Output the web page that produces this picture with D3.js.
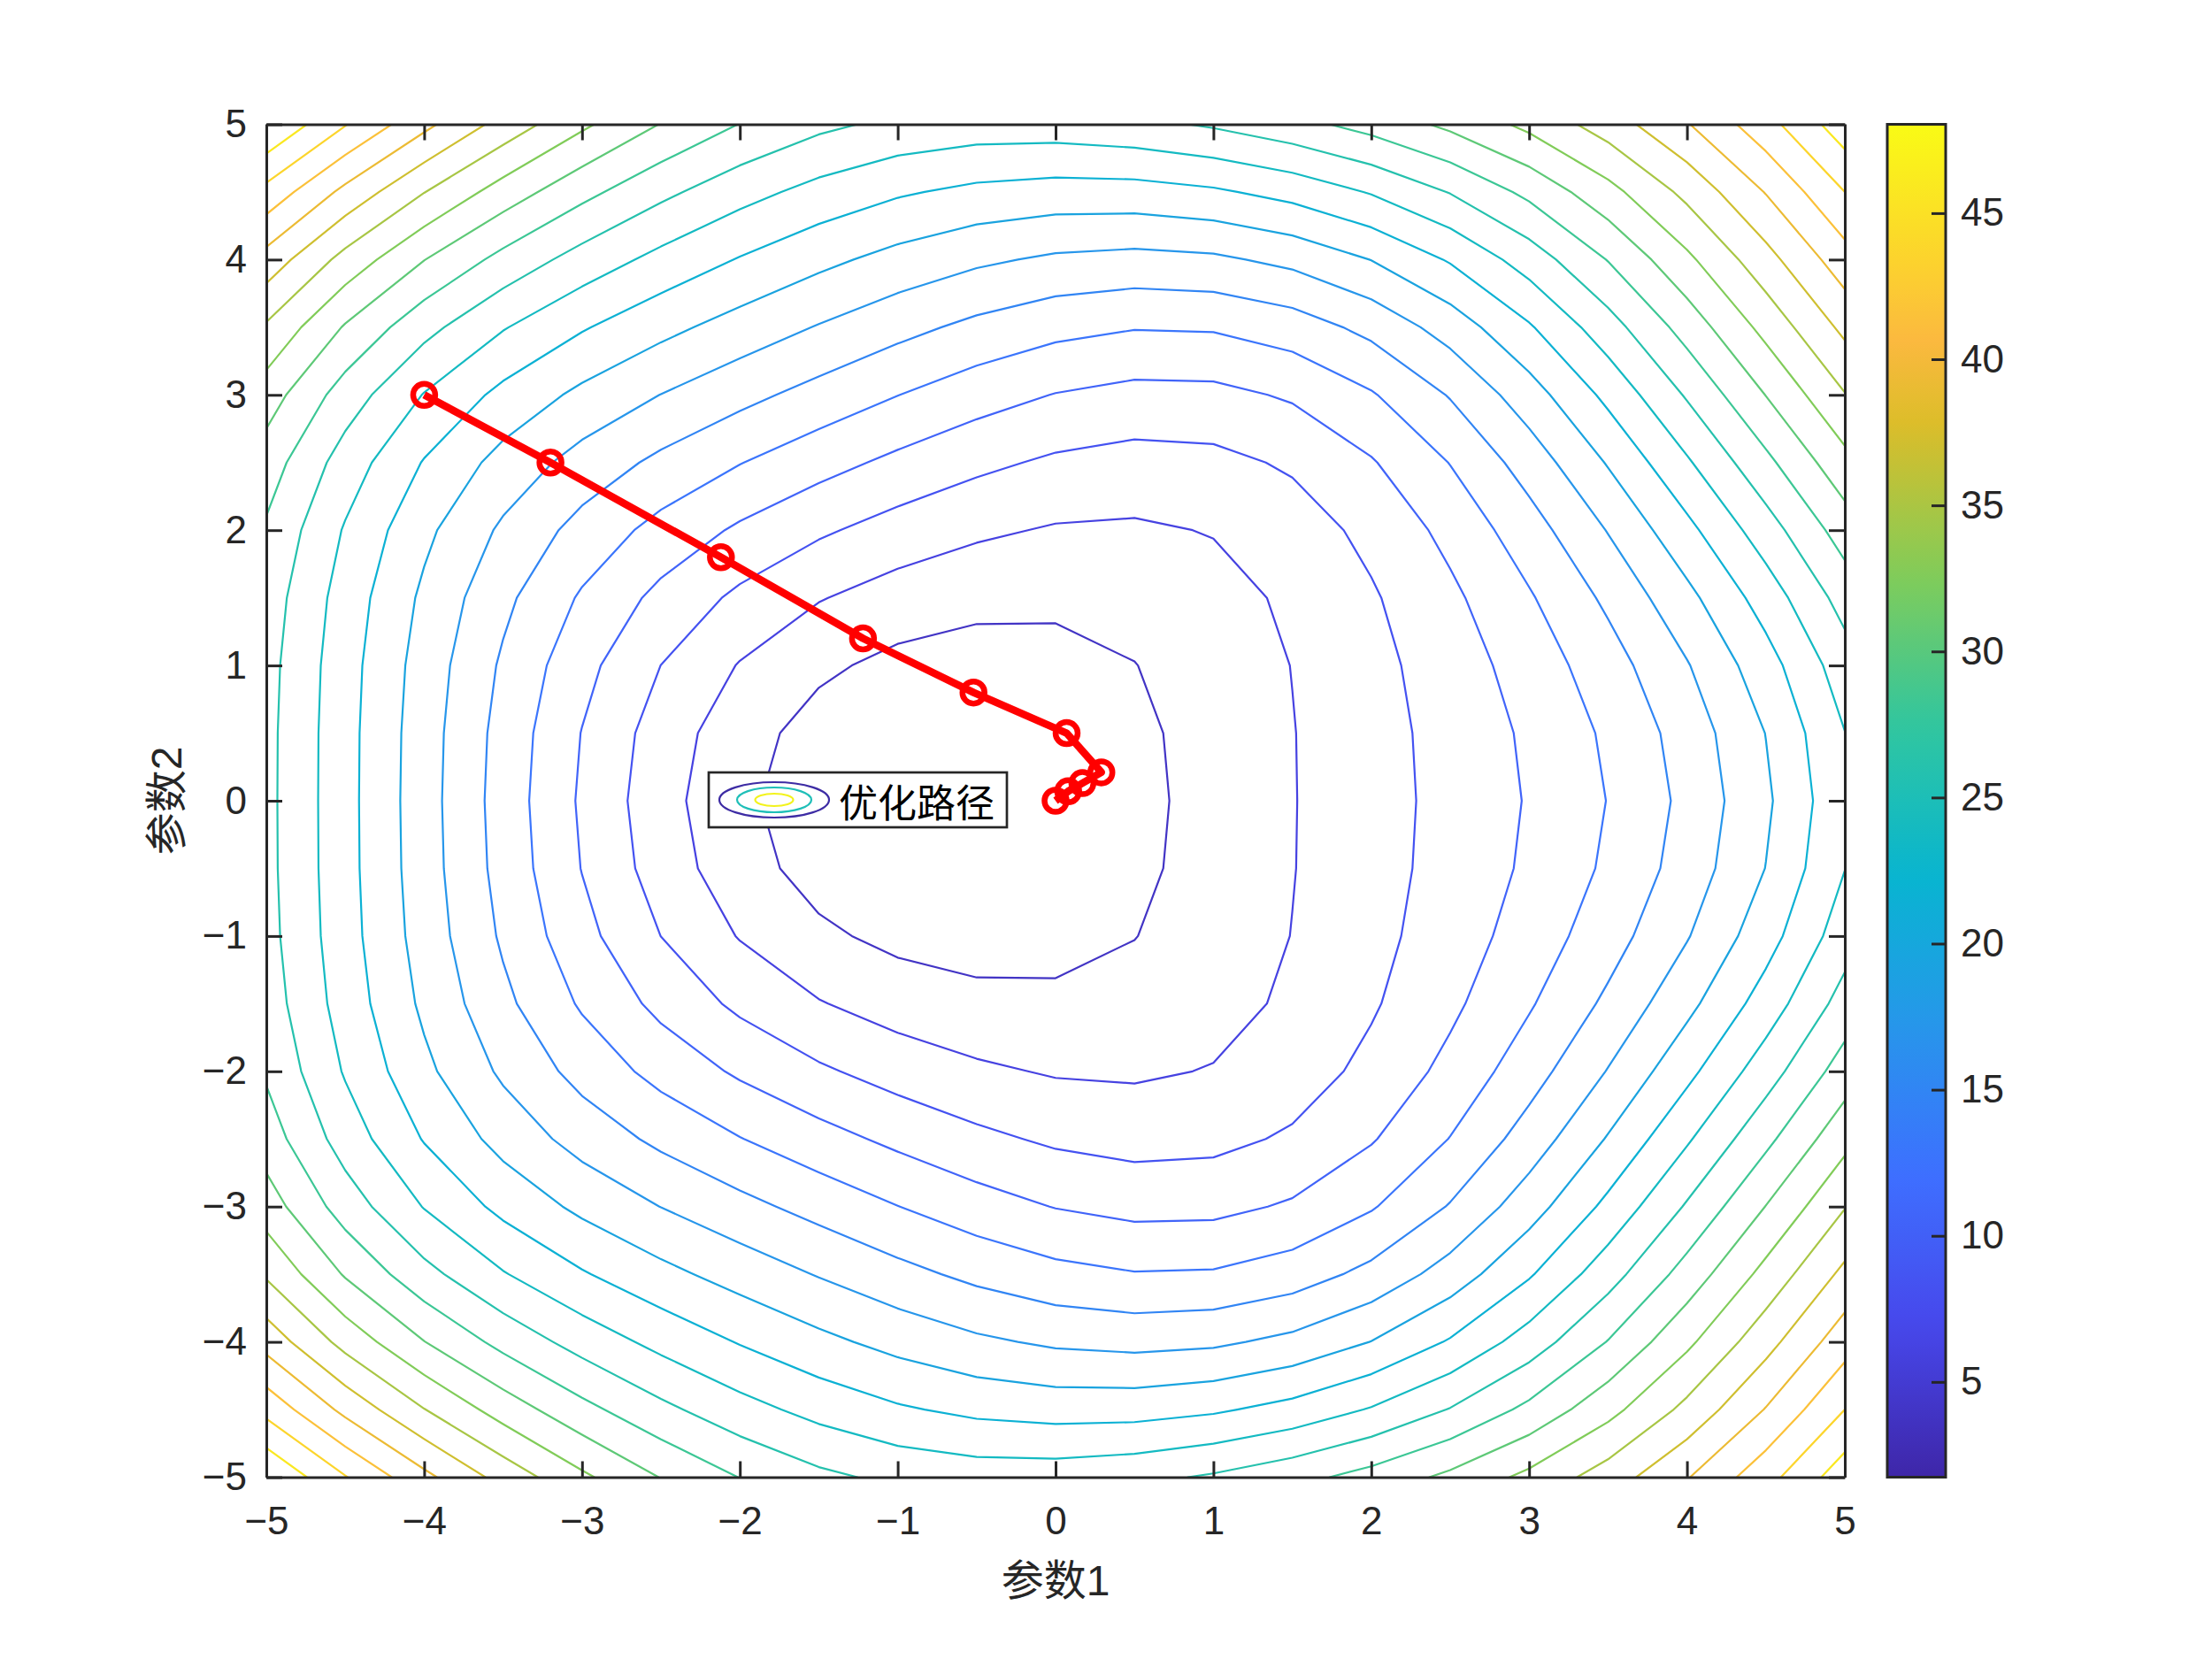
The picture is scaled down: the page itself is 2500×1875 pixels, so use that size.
<!DOCTYPE html>
<html lang="zh">
<head>
<meta charset="UTF-8">
<title>优化路径</title>
<script src="https://d3js.org/d3.v7.min.js"></script>
<style>
  body { margin: 0; background: #fff; }
  svg { display: block; background: #fff; }
</style>
</head>
<body>
<svg id="chart" width="2500" height="1875"></svg>
<script>
// grid the surface was sampled on (step 0.5)
const gridX = [-5, -4.5, -4, -3.5, -3, -2.5, -2, -1.5, -1, -0.5, 0, 0.5, 1, 1.5, 2, 2.5, 3, 3.5, 4, 4.5, 5];
const gridY = [-5, -4.5, -4, -3.5, -3, -2.5, -2, -1.5, -1, -0.5, 0, 0.5, 1, 1.5, 2, 2.5, 3, 3.5, 4, 4.5, 5];

// surface values, one row per gridY value (bottom row first), estimated from the contours
const zGrid = [
  [48.04, 43.75, 39.80, 36.21, 33.03, 30.32, 28.14, 26.51, 25.45, 24.95, 24.96, 25.41, 26.27, 27.47, 29.01, 30.90, 33.17, 35.87, 39.07, 42.81, 47.12],
  [42.94, 38.63, 34.87, 31.62, 28.85, 26.53, 24.60, 23.05, 21.86, 21.05, 20.66, 20.71, 21.26, 22.33, 23.95, 26.10, 28.75, 31.87, 35.41, 39.33, 43.63],
  [38.37, 34.05, 30.45, 27.51, 25.11, 23.13, 21.44, 19.95, 18.65, 17.57, 16.81, 16.50, 16.78, 17.74, 19.42, 21.80, 24.80, 28.29, 32.13, 36.22, 40.50],
  [34.52, 30.19, 26.69, 23.94, 21.79, 20.02, 18.48, 17.04, 15.66, 14.41, 13.42, 12.88, 12.98, 13.86, 15.59, 18.12, 21.34, 25.06, 29.10, 33.30, 37.57],
  [31.49, 27.16, 23.68, 20.97, 18.86, 17.14, 15.63, 14.19, 12.80, 11.51, 10.48, 9.89, 9.96, 10.83, 12.56, 15.12, 18.38, 22.15, 26.23, 30.45, 34.71],
  [29.31, 24.98, 21.44, 18.60, 16.32, 14.46, 12.84, 11.38, 10.04, 8.87, 7.99, 7.56, 7.75, 8.66, 10.37, 12.83, 15.94, 19.55, 23.50, 27.64, 31.92],
  [27.90, 23.58, 19.89, 16.79, 14.20, 12.03, 10.21, 8.69, 7.45, 6.52, 5.95, 5.84, 6.26, 7.28, 8.93, 11.18, 14.00, 17.28, 20.97, 24.97, 29.25],
  [27.11, 22.81, 18.94, 15.49, 12.49, 9.95, 7.88, 6.28, 5.17, 4.53, 4.37, 4.65, 5.37, 6.52, 8.10, 10.09, 12.53, 15.41, 18.76, 22.57, 26.88],
  [26.74, 22.46, 18.41, 14.64, 11.25, 8.34, 6.02, 4.36, 3.37, 3.02, 3.24, 3.90, 4.91, 6.19, 7.69, 9.44, 11.51, 14.00, 17.02, 20.66, 24.98],
  [26.61, 22.34, 18.17, 14.17, 10.49, 7.32, 4.82, 3.10, 2.21, 2.07, 2.56, 3.50, 4.72, 6.08, 7.53, 9.11, 10.91, 13.12, 15.91, 19.42, 23.75],
  [26.59, 22.32, 18.10, 14.01, 10.24, 6.97, 4.40, 2.67, 1.80, 1.74, 2.33, 3.37, 4.67, 6.06, 7.50, 9.00, 10.72, 12.82, 15.52, 18.99, 23.33],
  [26.61, 22.34, 18.17, 14.17, 10.49, 7.32, 4.82, 3.10, 2.21, 2.07, 2.56, 3.50, 4.72, 6.08, 7.53, 9.11, 10.91, 13.12, 15.91, 19.42, 23.75],
  [26.74, 22.46, 18.41, 14.64, 11.25, 8.34, 6.02, 4.36, 3.37, 3.02, 3.24, 3.90, 4.91, 6.19, 7.69, 9.44, 11.51, 14.00, 17.02, 20.66, 24.98],
  [27.11, 22.81, 18.94, 15.49, 12.49, 9.95, 7.88, 6.28, 5.17, 4.53, 4.37, 4.65, 5.37, 6.52, 8.10, 10.09, 12.53, 15.41, 18.76, 22.57, 26.88],
  [27.90, 23.58, 19.89, 16.79, 14.20, 12.03, 10.21, 8.69, 7.45, 6.52, 5.95, 5.84, 6.26, 7.28, 8.93, 11.18, 14.00, 17.28, 20.97, 24.97, 29.25],
  [29.31, 24.98, 21.44, 18.60, 16.32, 14.46, 12.84, 11.38, 10.04, 8.87, 7.99, 7.56, 7.75, 8.66, 10.37, 12.83, 15.94, 19.55, 23.50, 27.64, 31.92],
  [31.49, 27.16, 23.68, 20.97, 18.86, 17.14, 15.63, 14.19, 12.80, 11.51, 10.48, 9.89, 9.96, 10.83, 12.56, 15.12, 18.38, 22.15, 26.23, 30.45, 34.71],
  [34.52, 30.19, 26.69, 23.94, 21.79, 20.02, 18.48, 17.04, 15.66, 14.41, 13.42, 12.88, 12.98, 13.86, 15.59, 18.12, 21.34, 25.06, 29.10, 33.30, 37.57],
  [38.37, 34.05, 30.45, 27.51, 25.11, 23.13, 21.44, 19.95, 18.65, 17.57, 16.81, 16.50, 16.78, 17.74, 19.42, 21.80, 24.80, 28.29, 32.13, 36.22, 40.50],
  [42.94, 38.63, 34.87, 31.62, 28.85, 26.53, 24.60, 23.05, 21.86, 21.05, 20.66, 20.71, 21.26, 22.33, 23.95, 26.10, 28.75, 31.87, 35.41, 39.33, 43.63],
  [48.04, 43.75, 39.80, 36.21, 33.03, 30.32, 28.14, 26.51, 25.45, 24.95, 24.96, 25.41, 26.27, 27.47, 29.01, 30.90, 33.17, 35.87, 39.07, 42.81, 47.12]
];

// optimisation path
const pathX = [-4, -3.2, -2.12, -1.22, -0.52, 0.07, 0.29, 0.17, 0.08, 0];
const pathY = [3, 2.5, 1.8, 1.2, 0.8, 0.5, 0.21, 0.13, 0.07, 0];

const xTicks = [-5, -4, -3, -2, -1, 0, 1, 2, 3, 4, 5];
const yTicks = [-5, -4, -3, -2, -1, 0, 1, 2, 3, 4, 5];
const cbarTicks = [5, 10, 15, 20, 25, 30, 35, 40, 45];
const nLevels = 20;

const xLabel = "参数1";
const yLabel = "参数2";
const legendLabel = "优化路径";

// parula colour map
const parulaT = [0, 0.111, 0.222, 0.333, 0.444, 0.556, 0.667, 0.778, 0.84, 0.889, 1];
const parulaC = ["#3e26a8", "#4747eb", "#3e6fff", "#2796eb", "#08b5d0", "#31c69f",
                 "#81cc59", "#dcbd29", "#fbb93f", "#fccf30", "#f9fb15"];
const parula = d3.scaleLinear().domain(parulaT).range(parulaC)
  .interpolate(d3.interpolateRgb).clamp(true);

const FONT = '"Liberation Sans", Arial, "Noto Sans CJK SC", sans-serif';
const INK = "#262626";

const plot = { left: 301, top: 140.5, width: 1784, height: 1529 };
const cbar = { left: 2133, width: 66 };

const svg = d3.select("#chart");

const x = d3.scaleLinear().domain([-5, 5]).range([plot.left, plot.left + plot.width]);
const y = d3.scaleLinear().domain([-5, 5]).range([plot.top + plot.height, plot.top]);

// contour levels like MATLAB contour(Z, 20): evenly spaced inside the data range
const values = zGrid.flat();
const zExt = d3.extent(values);
const levels = d3.range(1, nLevels + 1).map(k => zExt[0] + k * (zExt[1] - zExt[0]) / (nLevels + 1));
const norm = d3.scaleLinear().domain(zExt).range([0, 1]);

const contours = d3.contours()
  .size([gridX.length, gridY.length])
  .thresholds(levels)(values);

// d3 grid coords -> data coords (value i sits at i + 0.5)
const gx = d3.scaleLinear().domain([0.5, gridX.length - 0.5]).range([gridX[0], gridX[gridX.length - 1]]);
const gy = d3.scaleLinear().domain([0.5, gridY.length - 0.5]).range([gridY[0], gridY[gridY.length - 1]]);

svg.append("defs").append("clipPath").attr("id", "plotClip")
  .append("rect")
  .attr("x", plot.left).attr("y", plot.top)
  .attr("width", plot.width).attr("height", plot.height);

const ringLine = d3.line().x(p => x(gx(p[0]))).y(p => y(gy(p[1])));

const contourG = svg.append("g").attr("clip-path", "url(#plotClip)");
contours.forEach(c => {
  const d = c.coordinates.map(poly => poly.map(ring => ringLine(ring) + "Z").join("")).join("");
  contourG.append("path")
    .attr("d", d)
    .attr("fill", "none")
    .attr("stroke", parula(norm(c.value)))
    .attr("stroke-width", 2.2)
    .attr("stroke-linejoin", "round");
});

// optimisation path
const pts = pathX.map((v, i) => [v, pathY[i]]);
svg.append("path")
  .datum(pts)
  .attr("d", d3.line().x(d => x(d[0])).y(d => y(d[1])))
  .attr("fill", "none")
  .attr("stroke", "#ff0000")
  .attr("stroke-width", 8.5)
  .attr("stroke-linejoin", "round");

svg.append("g").selectAll("circle")
  .data(pts)
  .enter().append("circle")
  .attr("cx", d => x(d[0]))
  .attr("cy", d => y(d[1]))
  .attr("r", 12.5)
  .attr("fill", "none")
  .attr("stroke", "#ff0000")
  .attr("stroke-width", 6.5);

// axes (ticks point inward, box on)
function styleAxis(g) {
  g.attr("font-family", FONT).attr("font-size", 44);
  g.select(".domain").attr("stroke", INK).attr("stroke-width", 3);
  g.selectAll(".tick line").attr("stroke", INK).attr("stroke-width", 3);
  g.selectAll(".tick text").attr("fill", INK);
}

svg.append("g")
  .attr("transform", `translate(0,${plot.top + plot.height})`)
  .call(d3.axisBottom(x).tickValues(xTicks).tickSize(-18).tickSizeOuter(0).tickPadding(33))
  .call(styleAxis);

svg.append("g")
  .attr("transform", `translate(${plot.left},0)`)
  .call(d3.axisLeft(y).tickValues(yTicks).tickSize(-18).tickSizeOuter(0).tickPadding(22))
  .call(styleAxis);

svg.append("g")
  .attr("transform", `translate(0,${plot.top})`)
  .call(d3.axisTop(x).tickValues(xTicks).tickSize(-18).tickSizeOuter(0).tickFormat(""))
  .call(styleAxis);

svg.append("g")
  .attr("transform", `translate(${plot.left + plot.width},0)`)
  .call(d3.axisRight(y).tickValues(yTicks).tickSize(-18).tickSizeOuter(0).tickFormat(""))
  .call(styleAxis);

// axis labels
svg.append("text")
  .attr("x", x(0))
  .attr("y", 1786)
  .attr("text-anchor", "middle")
  .attr("dominant-baseline", "central")
  .attr("font-family", FONT)
  .attr("font-size", 48)
  .attr("fill", INK)
  .text(xLabel);

svg.append("text")
  .attr("transform", `translate(188,${y(0)}) rotate(-90)`)
  .attr("text-anchor", "middle")
  .attr("dominant-baseline", "central")
  .attr("font-family", FONT)
  .attr("font-size", 48)
  .attr("fill", INK)
  .text(yLabel);

// colorbar
const grad = svg.select("defs").append("linearGradient")
  .attr("id", "parulaGrad")
  .attr("x1", 0).attr("y1", 1).attr("x2", 0).attr("y2", 0);
d3.range(0, 1.0001, 0.02).forEach(t => {
  grad.append("stop").attr("offset", t).attr("stop-color", parula(t));
});

svg.append("rect")
  .attr("x", cbar.left).attr("y", plot.top)
  .attr("width", cbar.width).attr("height", plot.height)
  .attr("fill", "url(#parulaGrad)");

const cy = d3.scaleLinear().domain(zExt).range([plot.top + plot.height, plot.top]);

const cbG = svg.append("g")
  .attr("transform", `translate(${cbar.left + cbar.width},0)`)
  .call(d3.axisRight(cy).tickValues(cbarTicks).tickSize(-16).tickSizeOuter(0).tickPadding(17))
  .call(styleAxis);
cbG.select(".domain").remove();

svg.append("rect")
  .attr("x", cbar.left).attr("y", plot.top)
  .attr("width", cbar.width).attr("height", plot.height)
  .attr("fill", "none")
  .attr("stroke", INK)
  .attr("stroke-width", 3);

// legend (contour entry only)
const leg = svg.append("g");
leg.append("rect")
  .attr("x", 801).attr("y", 873)
  .attr("width", 337).attr("height", 62)
  .attr("fill", "#fff")
  .attr("stroke", INK)
  .attr("stroke-width", 2.7);

const iconRx = [62, 42, 21.5];
const iconRy = [20, 14, 7];
const iconColor = ["#3d2ca4", "#1fbfb8", "#f3f31c"];
iconRx.forEach((rx, i) => {
  leg.append("ellipse")
    .attr("cx", 875).attr("cy", 904)
    .attr("rx", rx).attr("ry", iconRy[i])
    .attr("fill", "none")
    .attr("stroke", iconColor[i])
    .attr("stroke-width", 2.2);
});

leg.append("text")
  .attr("x", 948)
  .attr("y", 905)
  .attr("dominant-baseline", "central")
  .attr("font-family", '"Noto Sans CJK SC", sans-serif')
  .attr("font-size", 44)
  .attr("fill", "#000")
  .text(legendLabel);
</script>
</body>
</html>
